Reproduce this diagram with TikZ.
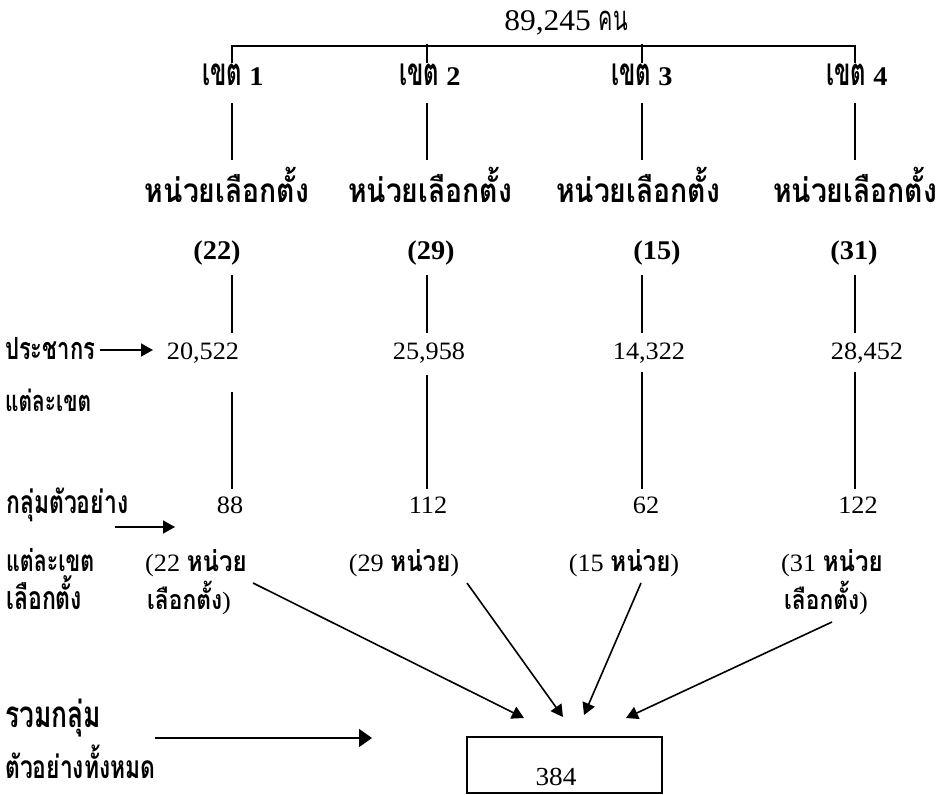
\documentclass[tikz,border=0pt]{standalone}
\usepackage{fontspec}
\usepackage{graphicx}
\setmainfont{Liberation Serif}[FakeStretch=1.05]
\newfontfamily\thai[Script=Thai,FakeStretch=0.85]{Loma}
\newfontfamily\thain[Script=Thai,FakeStretch=0.72]{Loma}
\newfontfamily\thaic[Script=Thai,FakeStretch=0.62]{Loma}
\newcommand{\fitto}[2]{\resizebox{#1pt}{!}{#2}}
\newcommand{\tw}[2]{\fitto{#1}{\thai\bfseries #2}}
\usetikzlibrary{arrows.meta}
\begin{document}
\begin{tikzpicture}[x=1pt,y=-1pt,
  ln/.style={line width=1.6pt},
  arr/.style={line width=1.6pt,-{Triangle[length=12pt,width=13pt]}},
  big/.style={font=\fontsize{30}{32}\selectfont},
  hd/.style={font=\fontsize{24}{26}\selectfont\bfseries},
  zn/.style={font=\fontsize{27}{29}\selectfont\bfseries},
  par/.style={font=\fontsize{27}{29}\selectfont\bfseries},
  num/.style={font=\fontsize{25}{27}\selectfont},
  lab/.style={font=\fontsize{22}{24}\selectfont\bfseries},
  txt/.style={inner sep=0pt,anchor=base}]
\useasboundingbox (0,0) rectangle (940,795);
% title
\node[txt,big] (t) at (566,30) {89,245 \fitto{29}{\thaic คน}};
% bracket
\coordinate (b1) at (232,46); \coordinate (b4) at (855,46);
\coordinate (b2) at (427,44); \coordinate (b3) at (642,44);
\coordinate (b1d) at (232,63); \coordinate (b2d) at (427,63);
\coordinate (b3d) at (642,63); \coordinate (b4d) at (855,63);
\draw[ln] (b1d) -- (b1) -- (b4) -- (b4d);
\draw[ln] (b2) -- (b2d);
\draw[ln] (b3) -- (b3d);
% zone labels
\node[txt,zn] (k1) at (233,85) {\fitto{40}{\thaic\bfseries เขต} 1};
\node[txt,zn] (k2) at (430,85) {\fitto{40}{\thaic\bfseries เขต} 2};
\node[txt,zn] (k3) at (642,85) {\fitto{40}{\thaic\bfseries เขต} 3};
\node[txt,zn] (k4) at (857,85) {\fitto{40}{\thaic\bfseries เขต} 4};
% polling units
\node[txt,hd] (h1) at (227,202) {\tw{164}{หน่วยเลือกตั้ง}};
\node[txt,hd] (h2) at (430,202) {\tw{164}{หน่วยเลือกตั้ง}};
\node[txt,hd] (h3) at (638,202) {\tw{164}{หน่วยเลือกตั้ง}};
\node[txt,hd] (h4) at (855,202) {\tw{164}{หน่วยเลือกตั้ง}};
\node[txt,par] (p1) at (217,259) {(22)};
\node[txt,par] (p2) at (431,259) {(29)};
\node[txt,par] (p3) at (657,259) {(15)};
\node[txt,par] (p4) at (854,259) {(31)};
% population
\node[txt,num] (n1) at (203,359) {20,522};
\node[txt,num] (n2) at (429,359) {25,958};
\node[txt,num] (n3) at (649,359) {14,322};
\node[txt,num] (n4) at (867,359) {28,452};
% samples
\node[txt,num] (s1) at (230,513) {88};
\node[txt,num] (s2) at (428,513) {112};
\node[txt,num] (s3) at (646,513) {62};
\node[txt,num] (s4) at (858,513) {122};
\node[txt,num,anchor=base west] (u1) at (145,571) {(22 \tw{60}{หน่วย}};
\node[txt,num,anchor=base west] (v1) at (147,609) {\tw{75}{เลือกตั้ง})};
\node[txt,num] (u2) at (404,571) {(29 \tw{60}{หน่วย})};
\node[txt,num] (u3) at (624,571) {(15 \tw{60}{หน่วย})};
\node[txt,num,anchor=base west] (u4) at (781,571) {(31 \tw{60}{หน่วย}};
\node[txt,num,anchor=base west] (v4) at (784,609) {\tw{75}{เลือกตั้ง})};
% vertical lines
\foreach \x/\i in {232/1,427/2,642/3,855/4}{
  \coordinate (a\i) at (\x,103); \coordinate (c\i) at (\x,160);
  \coordinate (d\i) at (\x,275); \coordinate (e\i) at (\x,333);
  \coordinate (g\i) at (\x,489);
  \draw[ln] (a\i) -- (c\i);
  \draw[ln] (d\i) -- (e\i);
}
\coordinate (f1) at (232,392); \coordinate (f2) at (427,375);
\coordinate (f3) at (642,372); \coordinate (f4) at (855,372);
\foreach \i in {1,2,3,4}{ \draw[ln] (f\i) -- (g\i); }
% left labels
\node[txt,lab,anchor=base west] (l1) at (5,359) {\fitto{90}{\thain\bfseries ประชากร}};
\node[txt,lab,anchor=base west] (l2) at (5,411) {\fitto{86}{\thain\bfseries แต่ละเขต}};
\node[txt,lab,anchor=base west] (l3) at (6,513) {\fitto{122}{\thain\bfseries กลุ่มตัวอย่าง}};
\node[txt,lab,anchor=base west] (l4) at (6,571) {\fitto{88}{\thain\bfseries แต่ละเขต}};
\node[txt,lab,anchor=base west] (l5) at (6,609) {\fitto{76}{\thain\bfseries เลือกตั้ง}};
\node[txt,lab,anchor=base west] (l6) at (5,727) {\fitto{96}{\thain\bfseries รวมกลุ่ม}};
\node[txt,lab,anchor=base west] (l7) at (5,778) {\fitto{150}{\thain\bfseries ตัวอย่างทั้งหมด}};
% left arrows
\coordinate (q1) at (100,350); \coordinate (q1e) at (153,350);
\coordinate (q2) at (115,527); \coordinate (q2e) at (175,527);
\coordinate (q3) at (155,738); \coordinate (q3e) at (372,738);
\draw[arr] (q1) -- (q1e);
\draw[arr] (q2) -- (q2e);
\draw[arr,-{Triangle[length=13pt,width=18pt]}] (q3) -- (q3e);
% total box
\node[draw,line width=1.6pt,minimum width=195pt,minimum height=56pt,inner sep=0pt] (box) at (564.5,765) {};
\node[txt,num,font=\fontsize{26}{28}\selectfont] (tot) at (556,785) {384};
% converging arrows
\coordinate (r1) at (253,583); \coordinate (r1e) at (524,718);
\coordinate (r2) at (467,583); \coordinate (r2e) at (563,717);
\coordinate (r3) at (641,583); \coordinate (r3e) at (584,715);
\coordinate (r4) at (832,622); \coordinate (r4e) at (626,718);
\draw[arr] (r1) -- (r1e);
\draw[arr] (r2) -- (r2e);
\draw[arr] (r3) -- (r3e);
\draw[arr] (r4) -- (r4e);
\end{tikzpicture}
\end{document}
